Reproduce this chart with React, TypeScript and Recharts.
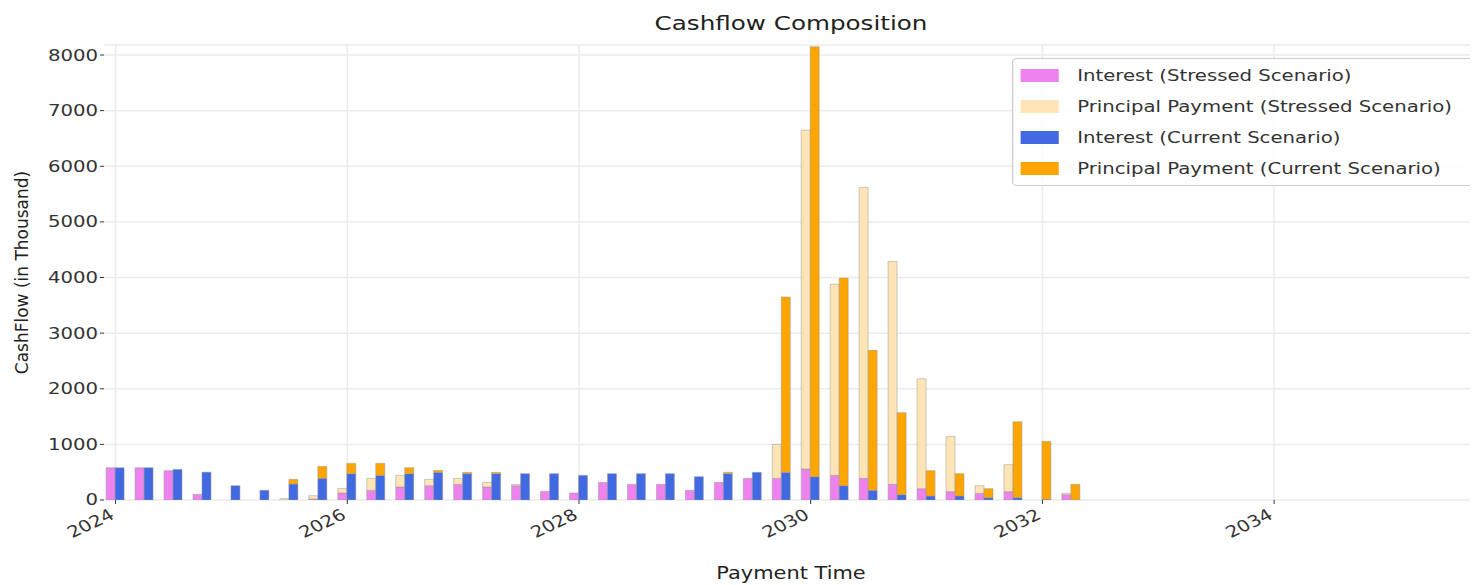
import React from "react";
import { BarChart, Bar, XAxis, YAxis, CartesianGrid } from "recharts";

const dates = Array.from({ length: 34 }, (_, i) => 2024 + i * 0.25);
const stressedInterest = [580,580,527,100,0,0,0,18,126,174,234,257,281,234,257,156,126,317,281,281,174,317,389,389,557,443,389,281,204,150,120,150,0,96];
const stressedTotal = [580,580,527,100,0,0,24,78,210,389,443,371,389,317,281,156,126,317,281,281,174,317,389,1000,6650,3880,5620,4290,2180,1144,257,635,0,120];
const currentInterest = [580,580,550,500,257,174,287,390,473,443,473,497,473,473,473,473,443,473,473,473,419,473,497,497,419,257,174,96,72,72,42,42,12,0];
const currentTotal = [580,580,550,500,257,174,371,605,659,659,581,533,497,497,473,473,443,473,473,473,419,497,497,3650,8150,3990,2690,1570,527,473,204,1407,1054,281];
const xTicks = [2024, 2026, 2028, 2030, 2032, 2034];
const yTicks = [0, 1000, 2000, 3000, 4000, 5000, 6000, 7000, 8000];

const data = dates.map((d, i) => ({
  t: d,
  si: stressedInterest[i],
  sp: stressedTotal[i] - stressedInterest[i],
  ci: currentInterest[i],
  cp: currentTotal[i] - currentInterest[i],
}));

const items = [
  { name: "Interest (Stressed Scenario)", color: "#ee82ee" },
  { name: "Principal Payment (Stressed Scenario)", color: "#ffe4b5" },
  { name: "Interest (Current Scenario)", color: "#4169e1" },
  { name: "Principal Payment (Current Scenario)", color: "#ffa500" },
];

const SX = 1.23;

const XTick = (props: any) => {
  const { x, y, payload } = props;
  const yy = y + 12;
  return (
    <text x={x} y={yy} transform={`translate(${x} ${yy}) scale(${SX} 1) rotate(-30) translate(${-x} ${-yy})`} textAnchor="end" fontSize={16} fill="#333" fontFamily="DejaVu Sans">
      {payload.value}
    </text>
  );
};

const YTick = (props: any) => {
  const { x, y, payload } = props;
  return (
    <text x={x} y={y} dy={5.5} transform={`translate(${x} ${y}) scale(${SX} 1) translate(${-x} ${-y})`} textAnchor="end" fontSize={16} fill="#333" fontFamily="DejaVu Sans">
      {payload.value}
    </text>
  );
};

export default function App() {
  const edge = { stroke: "#999", strokeWidth: 0.5 };
  const stretch = { transform: `scaleX(${SX})`, transformOrigin: "center" };
  return (
    <div style={{ position: "relative", width: 1470, height: 577, fontFamily: "DejaVu Sans" }}>
      <div style={{ position: "absolute", top: 3, left: 96, width: 1374, textAlign: "center", fontSize: 20, color: "#222", ...stretch }}>Cashflow Composition</div>
      <div style={{ position: "absolute", top: 555, left: 96, width: 1374, textAlign: "center", fontSize: 17, color: "#222", ...stretch }}>Payment Time</div>
      <div style={{ position: "absolute", left: 1004, top: 50, width: 376, zIndex: 2, border: "1px solid #ccc", borderRadius: 4, background: "rgba(255,255,255,0.85)", padding: "1px 0 1px 6px", fontSize: 16, color: "#333", transform: `scaleX(${SX})`, transformOrigin: "left top" }}>
        {items.map((it) => (
          <div key={it.name} style={{ display: "flex", alignItems: "center", height: 31 }}>
            <span style={{ display: "inline-block", width: 31, height: 13, background: it.color, marginRight: 15 }} />
            {it.name}
          </div>
        ))}
      </div>
      <BarChart width={1470} height={577} data={data} margin={{ top: 37, right: 0, left: 0, bottom: 0 }} barGap={0} barSize={9}>
        <CartesianGrid stroke="#ebebeb" strokeWidth={1.5} verticalValues={xTicks} />
        <XAxis dataKey="t" type="number" domain={[2023.9, 2035.76]} ticks={xTicks} allowDataOverflow height={85} axisLine={false} tickLine={{ stroke: "#333" }} tickSize={4} tick={<XTick />} />
        <YAxis type="number" domain={[0, 8180]} ticks={yTicks} allowDataOverflow width={96} axisLine={false} tickLine={{ stroke: "#333" }} tickSize={4} tick={<YTick />}
          label={{ value: "CashFlow (in Thousand)", angle: -90, position: "insideLeft", offset: 14, fontSize: 17, fill: "#222", style: { textAnchor: "middle" } }} />
        <Bar dataKey="si" stackId="s" fill="#ee82ee" {...edge} isAnimationActive={false} />
        <Bar dataKey="sp" stackId="s" fill="#ffe4b5" {...edge} isAnimationActive={false} />
        <Bar dataKey="ci" stackId="c" fill="#4169e1" {...edge} isAnimationActive={false} />
        <Bar dataKey="cp" stackId="c" fill="#ffa500" {...edge} isAnimationActive={false} />
      </BarChart>
    </div>
  );
}
